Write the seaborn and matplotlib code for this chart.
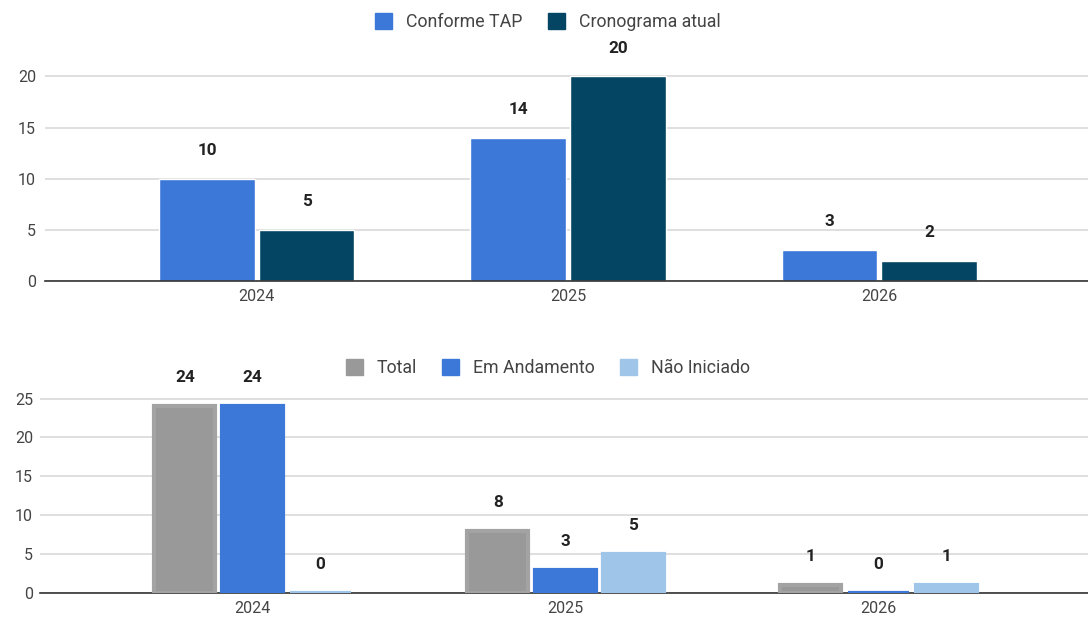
import matplotlib
matplotlib.use("Agg")
import matplotlib.pyplot as plt
import seaborn as sns
import pandas as pd
from matplotlib.patches import Patch

# ---- data ----
years = ["2024", "2025", "2026"]
top_series = ["Conforme TAP", "Cronograma atual"]
conforme_tap = [10, 14, 3]
cronograma_atual = [5, 20, 2]

bottom_series = ["Total", "Em Andamento", "Não Iniciado"]
total = [24, 8, 1]
em_andamento = [24, 3, 0]
nao_iniciado = [0, 5, 1]

top_colors = ["#3c78d8", "#034562"]
bottom_colors = ["#999999", "#3c78d8", "#9fc5e8"]

sns.set_theme(style="white")
plt.rcParams["font.family"] = ["Roboto", "DejaVu Sans"]

df_top = pd.DataFrame({
    "year": years * 2,
    "serie": [top_series[0]] * 3 + [top_series[1]] * 3,
    "value": conforme_tap + cronograma_atual,
})
df_bot = pd.DataFrame({
    "year": years * 3,
    "serie": [bottom_series[0]] * 3 + [bottom_series[1]] * 3 + [bottom_series[2]] * 3,
    "value": total + em_andamento + nao_iniciado,
})

W, H = 1088, 619
fig = plt.figure(figsize=(W / 100, H / 100), dpi=100)

def px_axes(left, top, right, bottom):
    return fig.add_axes([left / W, 1 - bottom / H, (right - left) / W, (bottom - top) / H])

FS = 11.5
LFS = 12.8
VFS = 12.3
GRID = "#d6d6d6"
TXT = "#444444"

def style(ax, ymax, ticks, ypad):
    ax.set_ylim(0, ymax)
    ax.set_yticks(ticks)
    ax.set_xlim(-0.68, 2.67)
    ax.grid(axis="y", color=GRID, linewidth=1.1)
    ax.set_axisbelow(True)
    for s in ["top", "right", "left"]:
        ax.spines[s].set_visible(False)
    ax.spines["bottom"].set_color("#333333")
    ax.spines["bottom"].set_linewidth(1.2)
    ax.tick_params(axis="both", length=0, labelsize=FS, colors=TXT, pad=6)
    ax.tick_params(axis="y", pad=ypad)
    ax.set_xlabel("")
    ax.set_ylabel("")
    if ax.get_legend() is not None:
        ax.get_legend().remove()

# ---- top chart ----
ax1 = px_axes(45, 61, 1088, 281)
sns.barplot(data=df_top, x="year", y="value", hue="serie", palette=top_colors,
            width=0.64, gap=0.04, ax=ax1, errorbar=None, saturation=1)
style(ax1, 21.5, [0, 5, 10, 15, 20], 6.5)
for c in ax1.containers:
    ax1.bar_label(c, labels=[f"{int(v)}" for v in c.datavalues], padding=15,
                  fontsize=VFS, fontweight="bold", color="#222222")

fig.legend(handles=[Patch(color=c, label=l) for c, l in zip(top_colors, top_series)],
           loc="center", bbox_to_anchor=(548 / W, 1 - 22 / H), ncol=2, frameon=False,
           fontsize=LFS, handlelength=0.95, handleheight=0.95, handletextpad=0.8,
           columnspacing=1.4, labelcolor=TXT)

# ---- bottom chart ----
ax2 = px_axes(40, 383, 1088, 593)
sns.barplot(data=df_bot, x="year", y="value", hue="serie", palette=bottom_colors,
            width=0.65, gap=0.1, ax=ax2, errorbar=None, saturation=1)
style(ax2, 27.0, [0, 5, 10, 15, 20, 25], 5)
edge_cols = ["#a3a3a3", "#3c78d8", "#9fc5e8"]
for c, ec in zip(ax2.containers, edge_cols):
    for p in c.patches:
        p.set_edgecolor(ec)
        p.set_linewidth(3.0)
        p.set_zorder(3)
    ax2.bar_label(c, labels=[f"{int(v)}" for v in c.datavalues], padding=15,
                  fontsize=VFS, fontweight="bold", color="#222222")

fig.legend(handles=[Patch(color=c, label=l) for c, l in zip(bottom_colors, bottom_series)],
           loc="center", bbox_to_anchor=(548 / W, 1 - 368 / H), ncol=3, frameon=False,
           fontsize=LFS, handlelength=0.95, handleheight=0.95, handletextpad=0.8,
           columnspacing=1.4, labelcolor=TXT)

fig.savefig("out.png", dpi=100)
